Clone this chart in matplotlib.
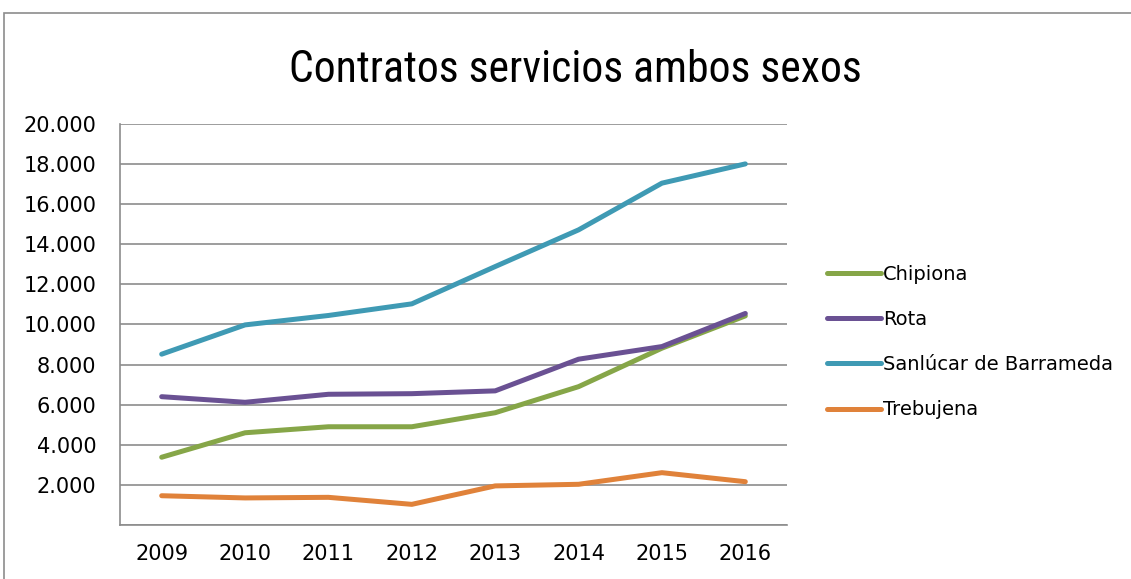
import numpy as np
import matplotlib
matplotlib.use("Agg")
import matplotlib.pyplot as plt
from matplotlib.patches import Rectangle
from matplotlib.ticker import FuncFormatter

years = ["2009", "2010", "2011", "2012", "2013", "2014", "2015", "2016"]
chipiona = [3380, 4600, 4900, 4900, 5600, 6900, 8820, 10430]
rota = [6400, 6120, 6520, 6550, 6690, 8270, 8900, 10550]
sanlucar = [8520, 9980, 10450, 11030, 12890, 14720, 17050, 18010]
trebujena = [1460, 1350, 1380, 1030, 1950, 2030, 2610, 2160]

series = [
    ("Chipiona", chipiona, "#86A648"),
    ("Rota", rota, "#6A5193"),
    ("Sanlúcar de Barrameda", sanlucar, "#3F9AB4"),
    ("Trebujena", trebujena, "#E0823A"),
]

plt.rcParams['font.family'] = ['DejaVu Sans']

fig = plt.figure(figsize=(11.31, 5.79), dpi=100)
# outer chart border (cut off on right / bottom)
fig.patches.append(Rectangle((4 / 1131, -0.05), 1.2, (579 - 13) / 579 + 0.05,
                             transform=fig.transFigure, fill=False,
                             edgecolor="#8c8c8c", linewidth=1.2))

ax = fig.add_axes([120 / 1131, 54 / 579, 667 / 1131, 401 / 579])
x = np.arange(len(years))
for name, vals, col in series:
    ax.plot(x, vals, color=col, linewidth=3.6, label=name,
            solid_capstyle="round", solid_joinstyle="round")

ax.set_xlim(-0.5, len(years) - 0.5)
ax.set_ylim(0, 20000)
ax.set_yticks(np.arange(0, 20001, 2000))
ax.yaxis.set_major_formatter(FuncFormatter(
    lambda v, p: "" if v == 0 else f"{int(v):,}".replace(",", ".")))
ax.set_xticks(x)
ax.set_xticklabels(years)
ax.tick_params(axis="both", length=0, labelsize=15, colors="black")
ax.tick_params(axis="y", pad=17)
ax.tick_params(axis="x", pad=14)
ax.grid(axis="y", color="#8c8c8c", linewidth=1.2)
ax.set_axisbelow(True)
for s in ["top", "right"]:
    ax.spines[s].set_visible(False)
for s in ["left", "bottom"]:
    ax.spines[s].set_color("#8c8c8c")
    ax.spines[s].set_linewidth(1.2)

fig.text(575 / 1131, 1 - 70 / 579, "Contratos servicios ambos sexos",
         ha="center", va="center", fontsize=31.5,
         family=["Roboto Condensed", "Liberation Sans Narrow", "Roboto", "DejaVu Sans"])

ax.legend(loc="center left", bbox_to_anchor=(809 / 1131, 237 / 579),
          bbox_transform=fig.transFigure, frameon=False, fontsize=14,
          handlelength=2.8, handletextpad=0.1, labelspacing=1.35)

fig.savefig("out.png", dpi=100)
